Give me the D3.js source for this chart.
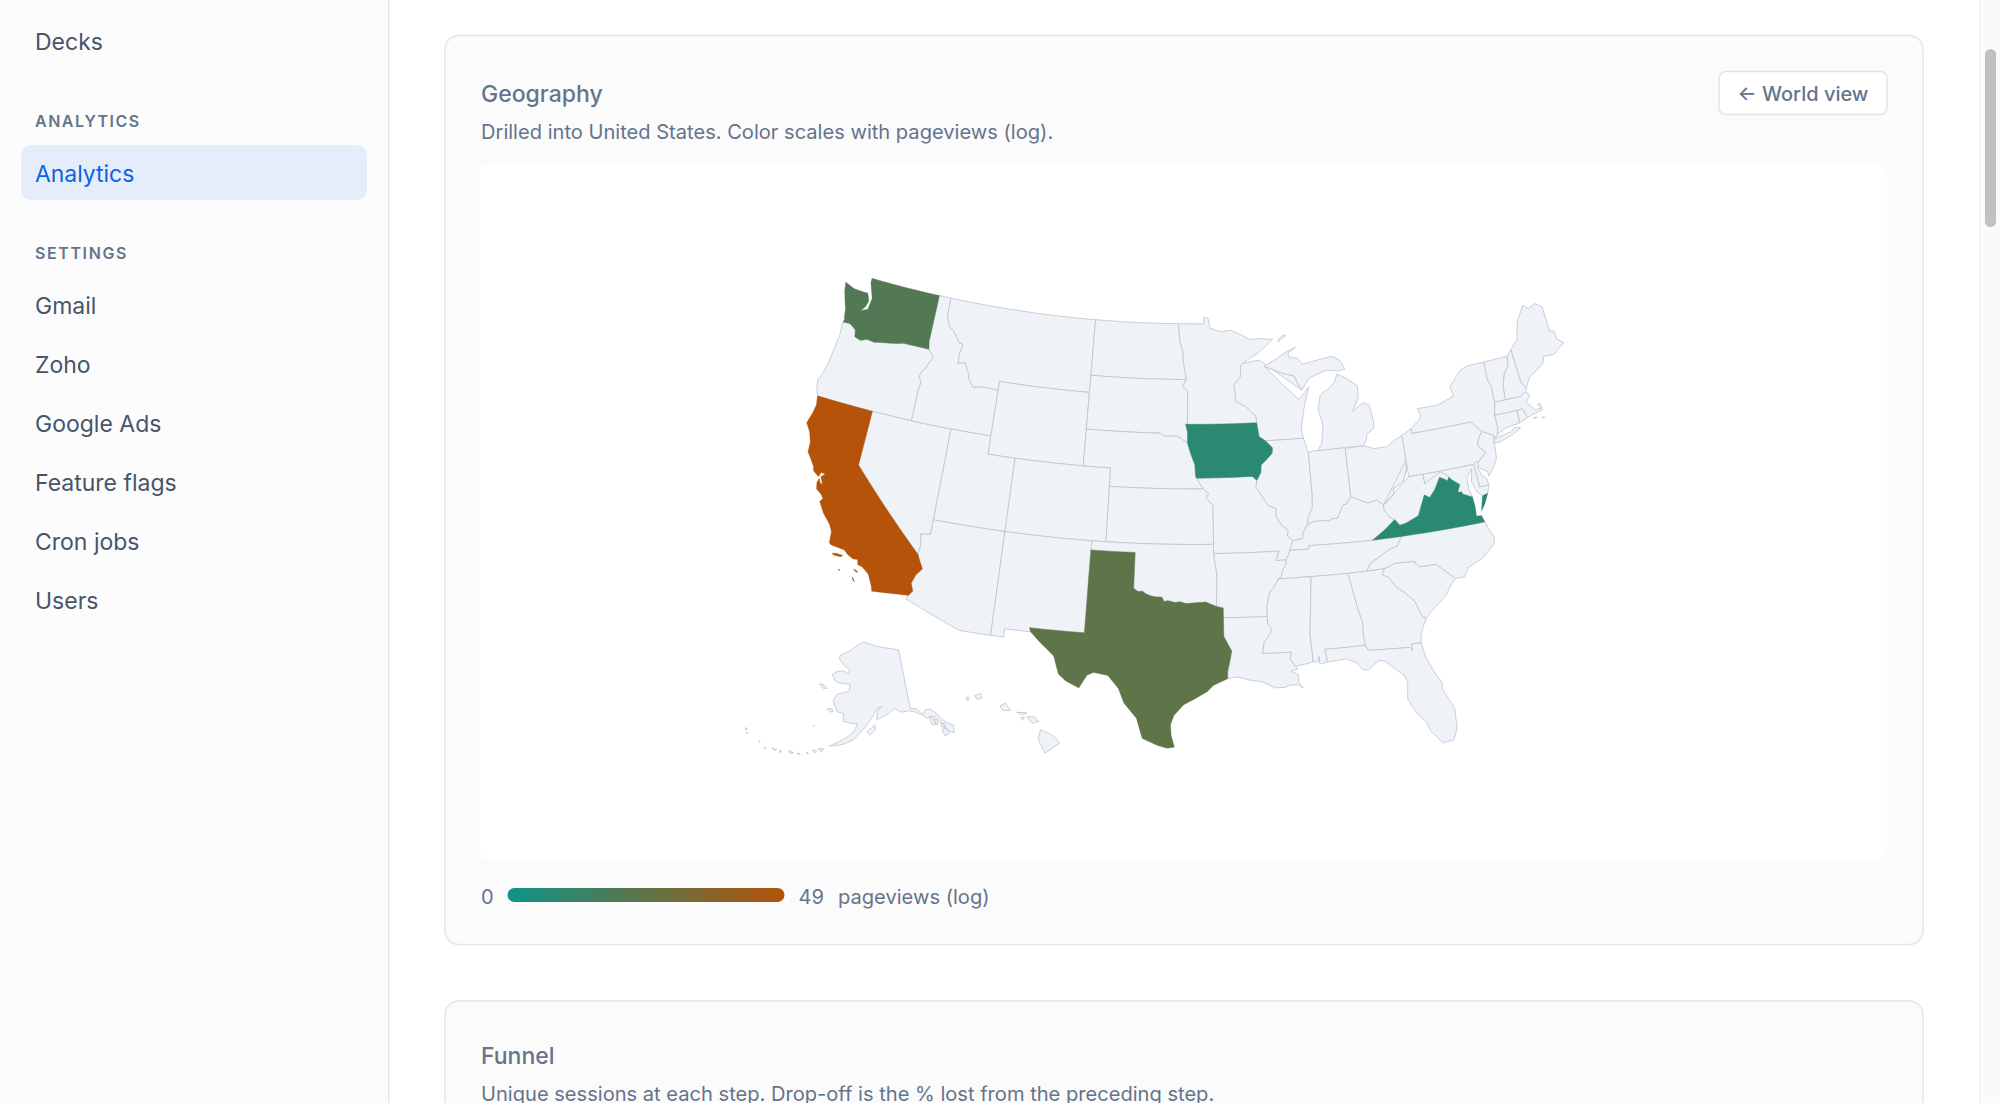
<!DOCTYPE html>
<html><head><meta charset="utf-8">
<script src="https://cdn.jsdelivr.net/npm/d3@7/dist/d3.min.js"></script>
<style>
html,body{margin:0;padding:0;background:#fff;overflow:hidden}
svg{display:block}
text{font-family:Inter,"Noto Sans",sans-serif}
</style></head><body><svg id="c" width="2000" height="1103"></svg>
<script>
// ---------- values ----------
const navTop = ["Decks"];
const navAnalytics = ["Analytics"];
const navSettings = ["Gmail","Zoho","Google Ads","Feature flags","Cron jobs","Users"];
const litStates = ["California","Texas","Washington","Iowa","Virginia"];
const litViews = [49,6,4,1,1];
const legendMin = 0, legendMax = 49;
const lowColor = "#0d9488", highColor = "#b45309";

// ---------- shared state borders (lon,lat) ----------
const S = {
 colWAOR:"-124,46.25 -123.45,46.27 -123.15,46.15 -122.88,46 -122.78,45.65 -122.3,45.55 -121.8,45.7 -121.2,45.65 -120.6,45.75 -119.95,45.83 -119.3,45.93 -118.98,46 -116.92,46",
 snake:"-116.92,46 -116.78,45.85 -116.55,45.75 -116.46,45.6 -116.67,45.3 -116.85,44.95 -117.05,44.75 -117.2,44.45 -117.03,44.25 -116.95,44.1 -117.03,43.8 -117.03,42",
 idmt:"-116.05,49 -116.05,48 -115.7,47.45 -115.3,47.25 -115,47 -114.7,46.7 -114.35,46.65 -114.5,46.1 -114.45,45.55 -113.95,45.7 -113.8,45.5 -113.45,45.05 -113.45,44.9 -113,44.45 -112.3,44.55 -111.5,44.55 -111.05,44.5",
 colCAAZ:"-114.72,32.72 -114.5,33 -114.7,33.4 -114.5,33.9 -114.15,34.27 -114.45,34.7 -114.63,35",
 colNVAZ:"-114.63,35 -114.57,35.6 -114.74,36.1 -114.05,36.2 -114.05,37",
 red:"-100,34.56 -99.7,34.4 -99.4,34.42 -99.2,34.3 -98.9,34.2 -98.6,34.15 -98.1,34.13 -97.95,33.9 -97.7,33.95 -97.2,33.85 -96.9,33.9 -96.5,33.8 -95.8,33.85 -95.2,33.88 -94.48,33.64",
 sabine:"-94.04,32 -93.8,31.6 -93.55,31.2 -93.7,30.6 -93.84,30.1 -93.85,29.7",
 redND:"-97.23,49 -97.1,48 -96.85,47.5 -96.8,46.9 -96.56,45.94",
 sdmn:"-96.56,45.94 -96.85,45.6 -96.45,45.3 -96.45,43.5",
 sdia:"-96.45,43.5 -96.6,43.5 -96.45,43.1 -96.45,42.49",
 moSDNE:"-104.05,43 -98.5,43 -98.2,42.85 -97.85,42.85 -97.3,42.85 -97,42.77 -96.7,42.6 -96.45,42.49",
 moIANE:"-96.45,42.49 -96.27,42.05 -96.1,41.7 -95.9,41.3 -95.85,40.68 -95.77,40.58",
 moMONE:"-95.77,40.58 -95.31,40",
 moMOKS:"-95.31,40 -94.9,39.75 -95.1,39.5 -94.61,39.11",
 mnwi:"-92.1,46.75 -92.29,46.66 -92.29,46.08 -92.85,45.6 -92.75,45 -92.8,44.75 -92,44.4 -91.25,43.85 -91.22,43.5",
 iawi:"-91.22,43.5 -91.1,42.75 -90.65,42.5",
 iail:"-90.65,42.5 -90.15,42.1 -90.2,41.8 -90.65,41.47 -91.05,41.2 -91.1,40.8 -91.42,40.38",
 moil:"-91.42,40.38 -91.5,40 -91.05,39.45 -90.7,39 -90.15,38.8 -90.2,38.4 -89.85,37.9 -89.4,37.6 -89.5,37.3 -89.15,37",
 moky:"-89.15,37 -89.4,36.5",
 motn:"-89.4,36.5 -89.5,36.25 -89.7,36",
 artn:"-89.7,36 -89.7,35.8 -89.95,35.5 -90.1,35.1 -90.3,35",
 arms:"-90.3,35 -90.6,34.6 -90.9,34.3 -91,34.1 -91.15,33.6 -91.17,33",
 lams:"-91.17,33 -91.15,32.6 -90.9,32.3 -91.05,32.05 -91.45,31.6 -91.6,31",
 lamsS:"-91.6,31 -89.73,31 -89.85,30.65 -89.55,30.2",
 ilky:"-89.15,37 -88.45,37.1 -88.4,37.4 -88.05,37.8",
 inky:"-88.05,37.8 -87.6,37.95 -86.8,37.95 -86.5,37.9 -86.3,38 -85.9,38 -85.7,38.3 -85.4,38.7 -85.2,38.7 -84.81,39.1",
 ohky:"-84.81,39.1 -84.25,38.85 -83.7,38.63 -83,38.72 -82.6,38.42",
 ohwv:"-82.6,38.42 -82.2,38.6 -81.75,38.95 -81.75,39.2 -81,39.5 -80.65,40 -80.52,40.64",
 wabash:"-87.53,39.35 -87.6,38.7 -87.95,38.2 -88.05,37.8",
 kywv:"-82.6,38.42 -82.6,38.15 -82.3,37.7 -81.97,37.54",
 kyva:"-81.97,37.54 -82.7,37.1 -83.68,36.6",
 nctn:"-81.68,36.59 -82.05,36.1 -82.6,36 -83.1,35.77 -84,35.4 -84.32,34.99",
 wvva:"-77.72,39.32 -77.83,39.13 -78.35,39.4 -78.87,38.77 -79.3,38.42 -79.65,38.6 -80.3,37.55 -81.25,37.25 -81.68,37.2 -81.97,37.54",
 potomac:"-76.35,38 -76.95,38.25 -77.05,38.4 -77.3,38.4 -77.05,38.8 -77.5,39.1 -77.72,39.32",
 mdwv:"-77.72,39.32 -78.2,39.68 -78.4,39.62 -79.48,39.2 -79.48,39.72",
 gasc:"-83.11,35 -83.35,34.7 -82.9,34.48 -82.55,33.95 -81.95,33.5 -81.45,33 -81.1,32.1 -80.85,32.03",
 ncsc:"-83.11,35 -82.4,35.2 -81.05,35.15 -81.05,35.05 -80.8,34.82 -79.67,34.8 -78.55,33.86",
 alga:"-85.6,34.98 -85.18,32.87 -85,32.3 -85.05,31.55 -85,31",
 flga:"-85,31 -84.86,30.71 -82.2,30.57 -82.05,30.36 -82.05,30.75 -81.45,30.72",
 njpa:"-74.7,41.36 -75.1,40.95 -75.2,40.65 -74.75,40.2 -75.4,39.8",
 nypa:"-79.76,42 -75.35,42 -74.7,41.36",
 vtny:"-73.35,45 -73.4,44 -73.25,43.6 -73.27,42.75",
 vtnh:"-71.5,45 -71.6,44.5 -72.05,44.1 -72.35,43.5 -72.45,42.73",
 menh:"-71.08,45.3 -70.98,43.4 -70.7,43.07",
 wimi:"-90.4,46.55 -89.1,46.13 -88.1,45.9 -87.8,45.35 -87.6,45.1"
};
const pts = s => s.trim().split(/\s+/).map(q => q.split(",").map(Number));
const f = k => pts(S[k]);                       // border, forward
const b = k => pts(S[k]).reverse();             // border, backward
const ring = (...parts) => parts.flatMap(p => typeof p === "string" ? pts(p) : p);

const stateRings = {
 Washington:[ring("-117.04,49 -122.76,49 -122.75,48.75 -122.5,48.3 -122.3,47.95 -122.35,47.6 -122.4,47.3 -122.9,47.12 -122.62,47.4 -122.5,47.75 -122.68,48.05 -122.76,48.15 -123.1,48.15 -123.9,48.17 -124.73,48.38 -124.6,47.9 -124.35,47.4 -124.1,46.95 -124.05,46.65 -123.95,46.4",f("colWAOR"),"-117.04,46.4")],
 Oregon:[ring(f("colWAOR"),f("snake"),"-120,42 -124.22,42 -124.4,42.3 -124.55,42.84 -124.35,43.2 -124.15,43.9 -124.05,44.7 -123.95,45.5")],
 California:[ring("-120,42 -124.22,42 -124.1,41.5 -124.2,41 -124.4,40.44 -124,40 -123.75,39.5 -123.7,38.95 -123.05,38.3 -122.95,38.05 -122.5,37.82 -122.4,38.08 -122.1,38.06 -122.35,37.85 -122.1,37.5 -122.25,37.5 -122.42,37.75 -122.5,37.5 -122.4,37.15 -122,36.95 -121.8,36.75 -121.95,36.55 -121.5,36 -120.9,35.5 -120.65,35.15 -120.6,34.55 -120.47,34.45 -119.5,34.35 -119.2,34.15 -118.8,34 -118.5,34.02 -118.4,33.75 -118.1,33.7 -117.6,33.4 -117.25,32.85 -117.12,32.53",f("colCAAZ"),"-120,39"),
   ring("-120.25,34.02 -119.95,34.08 -119.5,34.05 -119.65,33.95 -120.1,33.95"),
   ring("-118.6,33.48 -118.35,33.42 -118.3,33.33 -118.5,33.38"),
   ring("-118.6,33.05 -118.45,32.85 -118.35,32.82 -118.5,33"),
   ring("-119.6,33.28 -119.45,33.25 -119.5,33.2")],
 Nevada:[ring("-120,42 -114.04,42 -114.05,37",b("colNVAZ"),"-120,39")],
 Idaho:[ring("-117.04,49",f("idmt"),"-111.05,42 -114.04,42 -117.03,42",b("snake"),"-117.04,46.4")],
 Montana:[ring("-116.05,49 -104.05,49 -104.05,45 -111.05,45",b("idmt"))],
 Wyoming:[ring("-111.05,45 -104.05,45 -104.05,41 -111.05,41")],
 Utah:[ring("-114.04,42 -111.05,42 -111.05,41 -109.05,41 -109.05,37 -114.05,37")],
 Arizona:[ring(f("colCAAZ"),f("colNVAZ"),"-109.05,37 -109.05,31.33 -111.07,31.33 -114.81,32.5")],
 Colorado:[ring("-109.05,41 -102.05,41 -102.05,37 -109.05,37")],
 "New Mexico":[ring("-109.05,37 -103,37 -103.04,36.5 -103.06,32 -106.62,32 -106.53,31.78 -108.21,31.78 -108.21,31.33 -109.05,31.33")],
 "North Dakota":[ring("-104.05,49",f("redND"),"-104.05,45.94")],
 "South Dakota":[ring("-104.05,45.94",f("sdmn"),f("sdia"),b("moSDNE"))],
 Nebraska:[ring(f("moSDNE"),f("moIANE"),f("moMONE"),"-102.05,40 -102.05,41 -104.05,41")],
 Kansas:[ring("-102.05,40",f("moMOKS"),"-94.62,37 -102.05,37")],
 Oklahoma:[ring("-103,37 -94.62,37 -94.62,36.5 -94.43,35.4",b("red"),"-100,36.5 -103.04,36.5")],
 Texas:[ring("-106.62,32 -103.06,32 -103.04,36.5 -100,36.5",f("red"),"-94.04,33.55 -94.04,33.02",f("sabine"),"-94.75,29.35 -95.15,29 -95.95,28.6 -96.6,28.3 -97.2,27.7 -97.4,27.2 -97.35,26.6 -97.15,25.96 -97.6,25.9 -98.2,26.05 -99.1,26.4 -99.5,27.5 -100.3,28.3 -100.7,29.1 -101.4,29.77 -102.3,29.88 -102.7,29.7 -103.15,28.98 -104,29.3 -104.5,29.65 -104.9,30.6 -105.9,31.3 -106.53,31.78")],
 Minnesota:[ring("-97.23,49 -95.15,49 -95.15,49.38 -94.8,49.3 -94.65,48.75 -93.8,48.55 -92.95,48.62 -92,48.3 -91.4,48.05 -90.75,48.1 -89.6,48 -90.8,47.3 -91.5,47.05",f("mnwi"),"-96.45,43.5",b("sdmn"),b("redND"))],
 Iowa:[ring("-96.45,43.5 -91.22,43.5",f("iawi"),f("iail"),"-91.73,40.61 -95.77,40.58",b("moIANE"),b("sdia"))],
 Missouri:[ring("-95.77,40.58 -91.73,40.61 -91.42,40.38",f("moil"),f("moky"),f("motn"),"-90.38,36 -90.15,36.5 -94.62,36.5 -94.62,37",b("moMOKS"),b("moMONE"))],
 Arkansas:[ring("-94.62,36.5 -90.15,36.5 -90.38,36 -89.7,36",f("artn"),f("arms"),"-94.04,33.02 -94.04,33.55 -94.48,33.64 -94.43,35.4")],
 Louisiana:[ring("-94.04,33.02 -91.17,33",f("lams"),f("lamsS"),"-89.4,30.05 -89.85,29.95 -89.4,29.75 -89.4,29.3 -89.15,29 -89.45,29.2 -90,29.2 -90.25,29.1 -90.9,29.1 -91.3,29.3 -91.85,29.5 -92.3,29.55 -93.2,29.78",b("sabine"))],
 Wisconsin:[ring(b("wimi"),"-87.9,44.6 -87.05,45.25 -87.5,44.3 -87.7,43.7 -87.9,43 -87.8,42.49 -90.65,42.5",b("iawi"),b("mnwi"),"-91.2,46.87 -90.75,46.9")],
 Illinois:[ring("-90.65,42.5 -87.8,42.49 -87.6,41.85 -87.53,41.7",f("wabash"),b("ilky"),b("moil"),b("iail"))],
 Indiana:[ring("-87.53,41.7 -87.2,41.76 -86.82,41.76 -84.8,41.76 -84.81,39.1",b("inky"),b("wabash"))],
 Ohio:[ring("-84.8,41.72 -83.45,41.73 -82.7,41.5 -81.7,41.5 -81.2,41.77 -80.52,41.98 -80.52,40.64",b("ohwv"),b("ohky"))],
 Michigan:[ring("-86.82,41.76 -84.8,41.76 -83.45,41.73 -83.15,42.05 -83.1,42.3 -82.5,42.6 -82.45,43 -82.6,43.85 -83,44.05 -83.4,43.9 -83.9,43.65 -83.35,44.35 -83.3,45 -84.1,45.5 -84.75,45.78 -85,45.4 -85.55,45 -85.95,44.9 -86.25,44.7 -86.5,43.95 -86.25,43.1 -86.5,42.1"),
   ring(f("wimi"),"-87,45.7 -86.3,45.9 -85.5,46.05 -84.75,45.95 -84.1,46 -84.4,46.5 -85,46.77 -86.1,46.67 -87.4,46.5 -87.7,46.85 -88.4,46.95 -88.45,47.2 -87.8,47.47 -88.6,47.25 -89.6,46.85"),
   ring("-89.2,47.85 -88.5,48.15 -88.7,48.2 -89.1,47.98")],
 Kentucky:[ring(f("ilky"),f("inky"),f("ohky"),f("kywv"),f("kyva"),"-88.07,36.68 -88.07,36.5 -89.4,36.5",b("moky"))],
 Tennessee:[ring("-89.7,36 -89.5,36.25 -89.4,36.5 -88.07,36.5 -88.07,36.68 -83.68,36.6 -81.68,36.59",f("nctn"),"-85.6,34.98 -88.2,35",b("artn"))],
 Mississippi:[ring("-90.3,35 -88.2,35 -88.1,34.9 -88.47,31.9 -88.4,30.37 -89.55,30.2",b("lamsS"),b("lams"),b("arms"))],
 Alabama:[ring("-88.2,35",f("alga"),"-87.6,31 -87.5,30.3 -88,30.23 -88,30.65 -88.1,30.35 -88.4,30.37 -88.47,31.9 -88.1,34.9")],
 Georgia:[ring(f("alga"),f("flga"),"-81.4,31.1 -81.15,31.6",b("gasc"))],
 Florida:[ring("-87.6,31",f("flga"),"-81.3,29.9 -80.95,29.1 -80.55,28.4 -80.6,28.1 -80.05,26.9 -80.1,25.8 -80.4,25.2 -81.1,25.13 -81.7,25.9 -81.85,26.4 -82.25,26.8 -82.6,27.4 -82.8,27.8 -82.65,28.7 -82.8,29.1 -83.4,29.6 -83.95,30.05 -84.3,30.07 -85,29.65 -85.35,29.7 -85.65,30.1 -86.3,30.38 -87.5,30.3")],
 "South Carolina":[ring(f("ncsc"),"-79.1,33.4 -79.3,33.1 -79.9,32.7 -80.45,32.35",b("gasc"))],
 "North Carolina":[ring("-84.32,34.99",f("ncsc"),"-77.95,33.85 -77.6,34.3 -76.55,34.65 -75.6,35.25 -75.45,35.6 -75.75,36.2 -75.87,36.55 -76,36.55 -81.68,36.59",f("nctn"))],
 Virginia:[ring("-83.68,36.6 -81.68,36.59 -76,36.55 -75.87,36.55 -76,36.92 -76.35,36.95 -76.3,37.5",f("potomac"),f("wvva"),f("kyva")),
   ring("-75.95,37.15 -75.65,37.95 -75.25,38.03 -75.6,37.5")],
 "West Virginia":[ring(b("ohwv"),"-80.52,39.72 -79.48,39.72",b("mdwv"),f("wvva"),b("kywv"))],
 Maryland:[ring("-79.48,39.72 -75.79,39.72 -75.7,38.46 -75.05,38.45 -75.25,38.03 -75.65,37.95 -75.95,38.2 -76.2,38.8 -76,39.5 -76.45,39.1 -76.5,38.5",f("potomac"),f("mdwv"))],
 Delaware:[ring("-75.79,39.72 -75.6,39.83 -75.4,39.8 -75.55,39.45 -75.4,39.05 -75.1,38.8 -75.05,38.45 -75.7,38.46")],
 Pennsylvania:[ring("-80.52,41.98 -79.76,42.27",f("nypa"),f("njpa"),"-75.6,39.83 -75.79,39.72 -79.48,39.72 -80.52,39.72")],
 "New Jersey":[ring("-74.7,41.36 -73.9,41 -74.05,40.65 -74,40.45 -74.1,39.75 -74.4,39.4 -74.9,38.93 -74.95,39.2 -75.55,39.5",b("njpa"))],
 "New York":[ring("-79.76,42.27 -79,42.7 -78.9,42.9 -79.05,43.27 -77.5,43.25 -76.2,43.55 -76.3,44.1 -75.3,44.85 -74.7,45",f("vtny"),"-73.5,42.05 -73.5,41.3 -73.65,41 -73.9,40.8 -73.9,41",b("nypa")),
   ring("-74,40.6 -73.75,40.85 -72.6,40.97 -72.3,41.15 -71.87,41.07 -72.5,40.82 -73.6,40.58")],
 Connecticut:[ring("-73.5,42.05 -71.8,42.02 -71.85,41.32 -72.9,41.25 -73.65,41 -73.5,41.3")],
 "Rhode Island":[ring("-71.8,42.02 -71.38,42.02 -71.2,41.5 -71.85,41.32")],
 Massachusetts:[ring("-73.27,42.75 -72.45,42.73 -71.3,42.7 -70.85,42.87 -70.6,42.65 -71,42.3 -70.65,41.95 -70.5,41.78 -70,41.8 -70.05,42.05 -70.25,42.05 -69.95,41.7 -70.6,41.6 -71.2,41.5 -71.38,42.02 -71.8,42.02 -73.5,42.05"),
   ring("-70.8,41.42 -70.5,41.38 -70.65,41.33"),ring("-70.2,41.3 -69.98,41.28 -70.1,41.24")],
 Vermont:[ring(f("vtny"),"-72.45,42.73",b("vtnh"))],
 "New Hampshire":[ring(f("vtnh"),"-71.3,42.7 -70.85,42.87",b("menh"))],
 Maine:[ring(f("menh"),"-70.25,43.6 -69.8,43.75 -69,44.1 -68.8,44.45 -68,44.4 -67,44.85 -67.45,45.15 -67.45,45.6 -67.8,45.7 -67.8,47.07 -68.3,47.36 -68.9,47.2 -69.23,47.46 -70,46.7 -70.25,46.2 -70.4,45.75")],
 Alaska:[ring("-141,69.65 -141,60.3 -139.2,60.1 -137.5,59 -136.4,59.6 -135,59.5 -133.8,58.7 -132,57 -130,55.9 -130.6,54.8 -131.7,55.3 -132.8,56.7 -134,58 -135.3,58.4 -136.6,58.2 -138,59 -139.7,59.6 -141.5,60 -144,60 -146,60.7 -148,60 -149.5,59.7 -151.7,59.2 -151.5,60.5 -150,61.2 -151.8,60.8 -152.8,59.8 -154,58.9 -156,57.5 -158.5,56 -161,55.2 -163.2,54.8 -164.8,54.6 -163.2,55.2 -161,56 -158.8,57 -157.5,58.5 -159,58.5 -162,58.7 -162,59.9 -164,60 -165.3,61 -166,61.7 -164.8,62.8 -163.2,63.05 -161,63.5 -161,64.5 -163,64.55 -165,64.5 -166.5,64.7 -168.1,65.6 -166.5,66.2 -164,66.5 -162,66.1 -161.8,66.9 -163.8,67.2 -166.8,68.35 -166.2,68.9 -163,69.6 -160,70.6 -156.6,71.35 -152,70.8 -148,70.4 -144,70"),
   ring("-154.7,57.3 -153.3,57.9 -152.3,58.4 -152.3,57.6 -153.9,56.8"),
   ring("-133.5,55.9 -132.2,55.9 -131.8,55 -133.2,54.8"),
   ring("-136,58.3 -135,58.2 -134.8,57 -135.7,57"),
   ring("-134.6,57.8 -133.9,57.6 -134,56.9 -134.6,56.9"),
   ring("-133.2,57 -132.2,56.6 -132.5,56 -133.3,56.4"),
   ring("-171.7,63.75 -170,63.7 -168.8,63.3 -170.3,63.2"),
   ring("-167.4,60.2 -166,60.4 -165.4,60 -166.2,59.8"),
   ring("-170.3,57.2 -170.1,57.25 -170.1,57.1"),
   ring("-167.6,53.9 -166.2,54 -166.6,53.4"),ring("-169,53.4 -167.9,53.6 -168.2,53.1"),
   ring("-174.8,52.4 -173.5,52.3 -174.4,52"),ring("-177,52 -176.4,51.95 -176.8,51.65"),
   ring("-179,51.9 -177.8,51.9 -178.3,51.6"),ring("-172.5,52.45 -171.8,52.4 -172.3,52.25"),
   ring("-170.3,52.95 -169.8,52.85 -170.2,52.7"),
   ring("-180.9,51.6 -180.5,51.55 -180.7,51.35"),ring("-182.7,52.15 -182.4,52.1 -182.6,51.9"),
   ring("-187.4,53 -186.8,52.95 -187.1,52.75"),ring("-186.6,52.5 -186.2,52.45 -186.4,52.3")],
 Hawaii:[ring("-155.9,20.25 -155.1,19.85 -154.8,19.5 -155.65,18.95 -156.05,19.7"),
   ring("-156.7,20.95 -156.25,20.95 -156,20.7 -156.4,20.58"),
   ring("-157.3,21.2 -156.7,21.17 -156.9,21.05"),ring("-157.05,20.92 -156.85,20.9 -156.95,20.75"),
   ring("-158.25,21.55 -157.95,21.7 -157.65,21.3 -158.1,21.3"),
   ring("-159.75,22.1 -159.4,22.23 -159.3,21.97 -159.6,21.88"),
   ring("-160.25,22 -160.05,22 -160.15,21.8")]
};

// ---------- build features ----------
function dense(r){
  const out=[]; const n=r.length;
  for(let i=0;i<n;i++){
    const a=r[i], c=r[(i+1)%n];
    const steps=Math.max(1,Math.ceil(Math.hypot(c[0]-a[0],c[1]-a[1])));
    for(let k=0;k<steps;k++) out.push([a[0]+(c[0]-a[0])*k/steps,a[1]+(c[1]-a[1])*k/steps]);
  }
  out.push(out[0].slice());
  return out;
}
function oriented(r){
  let d=dense(r);
  if(d3.geoArea({type:"Polygon",coordinates:[d]})>2*Math.PI) d=d.slice().reverse();
  return d;
}
const features = Object.keys(stateRings).map(name=>({
  type:"Feature",
  properties:{name,views:litStates.includes(name)?litViews[litStates.indexOf(name)]:0},
  geometry:{type:"MultiPolygon",coordinates:stateRings[name].map(r=>[oriented(r)])}
}));
features.sort((a,b)=>a.properties.views-b.properties.views);

// ---------- drawing ----------
const svg=d3.select("#c");
const slate="#64748b", navText="#475569", line="#e2e5ee";
const T=(x,y,s,o={})=>svg.append("text").attr("x",x).attr("y",y).text(s)
  .attr("font-size",o.size||20).attr("font-weight",o.weight||400).attr("fill",o.fill||slate)
  .attr("letter-spacing",o.ls||null).attr("text-anchor",o.anchor||null);

// sidebar
svg.append("rect").attr("width",388).attr("height",1103).attr("fill","#fcfcfd");
svg.append("rect").attr("x",388).attr("width",1.4).attr("height",1103).attr("fill",line);
T(35,50,navTop[0],{size:23,fill:navText});
T(35,126.5,"ANALYTICS",{size:16,weight:600,ls:1.5});
svg.append("rect").attr("x",21).attr("y",145).attr("width",346).attr("height",55).attr("rx",10).attr("fill","#e6edfa");
T(35,181.5,navAnalytics[0],{size:22.9,fill:"#0b63e5"});
T(35,258.5,"SETTINGS",{size:16,weight:600,ls:1.6});
const navY=d3.scalePoint().domain(navSettings).range([313.5,608.5]);
navSettings.forEach(n=>T(35,navY(n),n,{size:23,fill:navText}));

// scrollbar
svg.append("rect").attr("x",1979).attr("width",21).attr("height",1103).attr("fill","#fafafa");
svg.append("rect").attr("x",1979).attr("width",1).attr("height",1103).attr("fill","#ececec");
svg.append("rect").attr("x",1985).attr("y",49).attr("width",11).attr("height",178).attr("rx",5.5).attr("fill","#c1c1c1");

// cards
const card=(y,h)=>svg.append("rect").attr("x",445).attr("y",y).attr("width",1478).attr("height",h).attr("rx",14)
  .attr("fill","#fbfbfc").attr("stroke",line).attr("stroke-width",1.4);
card(35.5,909); card(1001,200);

T(481,102,"Geography",{size:23,weight:500});
T(481,139,"Drilled into United States. Color scales with pageviews (log).",{size:20.1});
svg.append("rect").attr("x",1719).attr("y",71.5).attr("width",168).attr("height",43).attr("rx",7).attr("fill","#fff").attr("stroke","#dfe3ec").attr("stroke-width",1.4);
T(1803,101,"← World view",{size:20,weight:500,anchor:"middle"});

svg.append("rect").attr("x",480).attr("y",165).attr("width",1407).attr("height",694).attr("rx",8).attr("fill","#fff");

// map
const projection=d3.geoAlbersUsa().scale(1050).translate([1185,513]);
const path=d3.geoPath(projection);
const color=d3.scaleLog().domain([1,legendMax+1]).range([0,1]);
const ramp=d3.interpolateRgb(lowColor,highColor);
const fillOf=v=>v>0?ramp(color(v+1)):"#eff3f7";
svg.append("g").selectAll("path").data(features).join("path")
  .attr("d",path)
  .attr("fill",d=>fillOf(d.properties.views))
  .attr("stroke",d=>d.properties.views>0?fillOf(d.properties.views):"#bcc4ce")
  .attr("stroke-width",d=>d.properties.views>0?0.3:0.8)
  .attr("stroke-linejoin","round");

// legend
const defs=svg.append("defs");
const g=defs.append("linearGradient").attr("id","lg");
g.append("stop").attr("offset","0%").attr("stop-color",lowColor);
g.append("stop").attr("offset","100%").attr("stop-color",highColor);
T(481,904,String(legendMin),{size:20.1});
svg.append("rect").attr("x",507.5).attr("y",888).attr("width",277).attr("height",14).attr("rx",7).attr("fill","url(#lg)");
T(798.5,904,String(legendMax),{size:20.1});
T(838,904,"pageviews (log)",{size:20.1});

T(481,1064,"Funnel",{size:23,weight:500});
T(481,1100.5,"Unique sessions at each step. Drop-off is the % lost from the preceding step.",{size:20.1});
</script></body></html>
